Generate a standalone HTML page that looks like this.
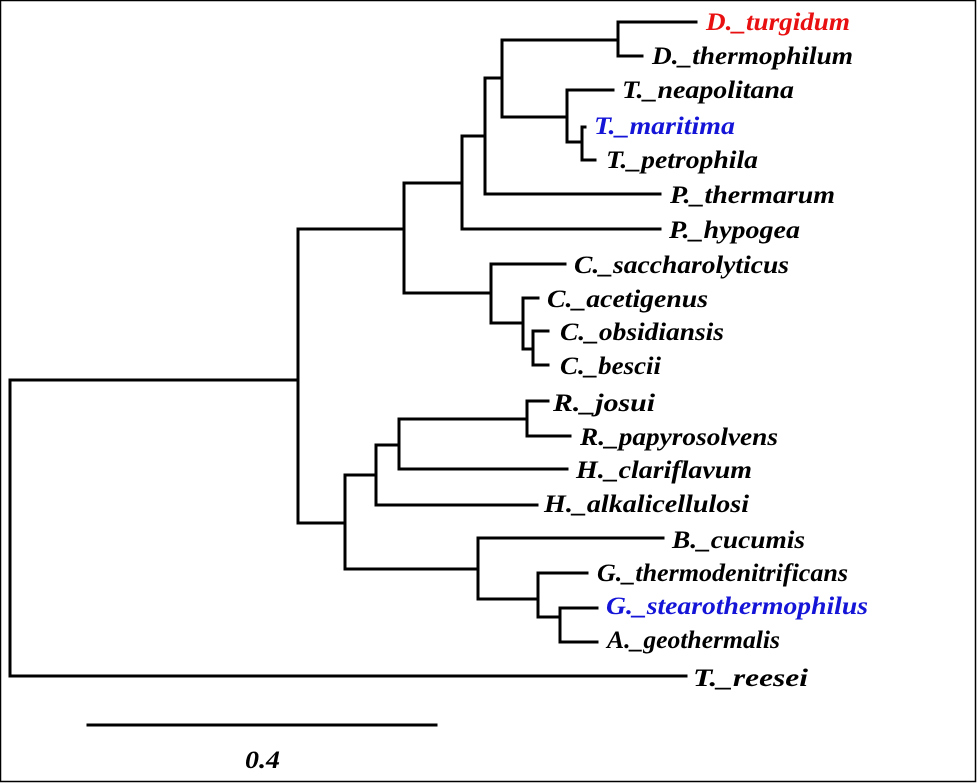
<!DOCTYPE html>
<html><head><style>html,body{margin:0;padding:0;background:#fff}svg{display:block}</style></head>
<body>
<svg width="977" height="783" viewBox="0 0 977 783" xmlns="http://www.w3.org/2000/svg">
<rect x="0.5" y="0.5" width="975" height="781" fill="#fff" stroke="#000" stroke-width="1.5"/>
<g stroke="#000" stroke-width="3" fill="none" stroke-linecap="square">
<path d="M696,22H618V56H642"/>
<path d="M618,40H502V117H567"/>
<path d="M613,90H567V142H582"/>
<path d="M585,127H582V160H595"/>
<path d="M502,78H485V194H660"/>
<path d="M485,136H462V229H660"/>
<path d="M462,183H404V293H491"/>
<path d="M565,264H491V323H523"/>
<path d="M538,298H523V349H533"/>
<path d="M548,331H533V365H548"/>
<path d="M404,229H298V523H345"/>
<path d="M298,380H10V676H686"/>
<path d="M548,401H527V436H570"/>
<path d="M527,419H399V469H567"/>
<path d="M399,445H376V505H537"/>
<path d="M376,475H345V569H478"/>
<path d="M663,538H478V599H538"/>
<path d="M587,573H538V617H560"/>
<path d="M597,608H560V642H597"/>
<path d="M88,725H436"/>
</g>
<g font-family="Liberation Serif, serif" font-style="italic" font-weight="bold" font-size="25" fill="#000">
<text x="706" y="30" fill="#e81010" textLength="144" lengthAdjust="spacingAndGlyphs">D._turgidum</text>
<text x="652" y="64" textLength="201" lengthAdjust="spacingAndGlyphs">D._thermophilum</text>
<text x="622" y="98" textLength="172" lengthAdjust="spacingAndGlyphs">T._neapolitana</text>
<text x="594" y="134" fill="#1515d8" textLength="141" lengthAdjust="spacingAndGlyphs">T._maritima</text>
<text x="606" y="168" textLength="152" lengthAdjust="spacingAndGlyphs">T._petrophila</text>
<text x="670" y="203" textLength="165" lengthAdjust="spacingAndGlyphs">P._thermarum</text>
<text x="669" y="238" textLength="131" lengthAdjust="spacingAndGlyphs">P._hypogea</text>
<text x="574" y="273" textLength="215" lengthAdjust="spacingAndGlyphs">C._saccharolyticus</text>
<text x="547" y="307" textLength="161" lengthAdjust="spacingAndGlyphs">C._acetigenus</text>
<text x="560" y="340" textLength="164" lengthAdjust="spacingAndGlyphs">C._obsidiansis</text>
<text x="560" y="374" textLength="101" lengthAdjust="spacingAndGlyphs">C._bescii</text>
<text x="553" y="411" textLength="102" lengthAdjust="spacingAndGlyphs">R._josui</text>
<text x="580" y="445" textLength="198" lengthAdjust="spacingAndGlyphs">R._papyrosolvens</text>
<text x="576" y="478" textLength="176" lengthAdjust="spacingAndGlyphs">H._clariflavum</text>
<text x="544" y="512" textLength="205" lengthAdjust="spacingAndGlyphs">H._alkalicellulosi</text>
<text x="672" y="548" textLength="133" lengthAdjust="spacingAndGlyphs">B._cucumis</text>
<text x="597" y="581" textLength="251" lengthAdjust="spacingAndGlyphs">G._thermodenitrificans</text>
<text x="606" y="614" fill="#1515d8" textLength="262" lengthAdjust="spacingAndGlyphs">G._stearothermophilus</text>
<text x="607" y="648" textLength="173" lengthAdjust="spacingAndGlyphs">A._geothermalis</text>
<text x="693" y="686" textLength="115" lengthAdjust="spacingAndGlyphs">T._reesei</text>
<text x="245" y="768" textLength="35" lengthAdjust="spacingAndGlyphs">0.4</text>
</g>
</svg>
</body></html>
